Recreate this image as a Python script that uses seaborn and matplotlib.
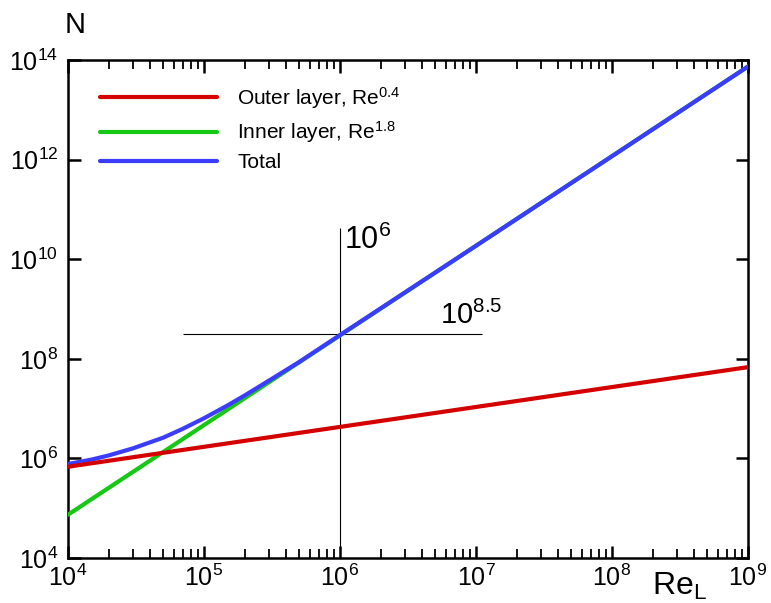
import numpy as np
import pandas as pd
import matplotlib
matplotlib.use('Agg')
import matplotlib.pyplot as plt
from matplotlib.ticker import FixedLocator, NullLocator
import seaborn as sns

# ---- data ----
re_outer = [1e4, 1e9]
n_outer = [6.8e5, 6.8e7]

re_inner = [1e4, 1e9]
n_inner = [7.4e4, 7.4e13]

re_total = [1e4, 1.5e4, 2e4, 3e4, 5e4, 7e4, 1e5, 1.5e5, 2e5, 3e5, 5e5, 1e6, 1e7, 1e8, 1e9]
n_total = [7.7e5, 9.5e5, 1.15e6, 1.59e6, 2.6e6, 3.94e6, 6.4e6, 1.17e7, 1.85e7, 3.64e7,
           8.6e7, 3.0e8, 1.86e10, 1.17e12, 7.4e13]

# crosshair marking Re = 1e6, N = 10^8.5
cross_x = 1e6
cross_y = 10 ** 8.5
cross_v_span = [1e4, 4.2e10]
cross_h_span = [7e4, 1.1e7]

x_ticks = [1e4, 1e5, 1e6, 1e7, 1e8, 1e9]
x_tick_labels = ['$10^{4}$', '$10^{5}$', '$10^{6}$', '$10^{7}$', '$10^{8}$', '$10^{9}$']
x_minor = [m * d for d in [1e4, 1e5, 1e6, 1e7, 1e8] for m in range(2, 10)]
y_ticks = [1e4, 1e6, 1e8, 1e10, 1e12, 1e14]
y_tick_labels = ['$10^{4}$', '$10^{6}$', '$10^{8}$', '$10^{10}$', '$10^{12}$', '$10^{14}$']

labels = ['Outer layer, Re$^{0.4}$', 'Inner layer, Re$^{1.8}$', 'Total']
colors = ['#d40000', '#14c814', '#3c3cff']

# ---- style ----
sns.set_theme(style='ticks')
plt.rcParams.update({
    'font.family': ['Liberation Sans', 'DejaVu Sans'],
    'mathtext.fontset': 'custom',
    'mathtext.rm': 'Liberation Sans',
    'mathtext.it': 'Liberation Sans:italic',
    'mathtext.default': 'regular',
    'text.color': 'black',
    'xtick.color': 'black',
    'ytick.color': 'black',
    'xtick.direction': 'in',
    'ytick.direction': 'in',
    'xtick.top': True,
    'xtick.bottom': True,
    'ytick.left': True,
    'ytick.right': True,
    'xtick.major.size': 9,
    'ytick.major.size': 9,
    'xtick.major.width': 1.8,
    'ytick.major.width': 1.8,
    'xtick.minor.size': 6.5,
    'xtick.minor.width': 1.3,
    'xtick.labelsize': 18,
    'ytick.labelsize': 18,
})

fig = plt.figure(figsize=(7.71, 6.03), dpi=100)
ax = fig.add_axes([68 / 771, 1 - 558 / 603, 680 / 771, 498 / 603])

df_outer = pd.DataFrame({'Re': re_outer, 'N': n_outer})
df_inner = pd.DataFrame({'Re': re_inner, 'N': n_inner})
df_total = pd.DataFrame({'Re': re_total, 'N': n_total})

sns.lineplot(data=df_inner, x='Re', y='N', color=colors[1], lw=3, label=labels[1], ax=ax, zorder=3)
sns.lineplot(data=df_total, x='Re', y='N', color=colors[2], lw=3, label=labels[2], ax=ax, zorder=4)
sns.lineplot(data=df_outer, x='Re', y='N', color=colors[0], lw=3, label=labels[0], ax=ax, zorder=5)

ax.set_xscale('log')
ax.set_yscale('log')
ax.set_xlim(1e4, 1e9)
ax.set_ylim(1e4, 1e14)

# crosshair
ax.vlines(cross_x, cross_v_span[0], cross_v_span[1], color='black', lw=0.8, zorder=2)
ax.hlines(cross_y, cross_h_span[0], cross_h_span[1], color='black', lw=0.8, zorder=2)
ax.text(1.07e6, 1.6e10, '$10^{6}$', fontsize=22, ha='left', va='baseline')
ax.text(5.4e6, 5.1e8, '$10^{8.5}$', fontsize=21, ha='left', va='baseline')

# ticks
ax.set_xticks(x_ticks)
ax.set_xticklabels(x_tick_labels)
ax.set_yticks(y_ticks)
ax.set_yticklabels(y_tick_labels)
ax.yaxis.set_minor_locator(NullLocator())
ax.tick_params(axis='x', pad=5)
ax.tick_params(axis='y', pad=7)

for sp in ax.spines.values():
    sp.set_visible(True)
    sp.set_color('black')
    sp.set_linewidth(1.8)

ax.set_xlabel('')
ax.set_ylabel('')
fig.text(65 / 771, 1 - 33 / 603, 'N', fontsize=21, ha='left', va='baseline')
fig.text(652 / 771, 1 - 595 / 603, 'Re$_{L}$', fontsize=23, ha='left', va='baseline')

handles, lbls = ax.get_legend_handles_labels()
order = [lbls.index(l) for l in labels]
leg = ax.legend([handles[i] for i in order], [lbls[i] for i in order],
                loc='upper left', bbox_to_anchor=(0.047, 0.95), frameon=False,
                fontsize=15, handlelength=5.6, handletextpad=1.0, labelspacing=0.4,
                borderpad=0, borderaxespad=0)
for t in leg.get_texts():
    t.set_color('black')

# minor x ticks last so nothing resets them
ax.xaxis.set_minor_locator(FixedLocator(x_minor))
ax.xaxis.set_tick_params(which='minor', length=6.5, width=1.3, direction='in',
                         bottom=True, top=True, color='black')

fig.savefig('out.png', dpi=100)
